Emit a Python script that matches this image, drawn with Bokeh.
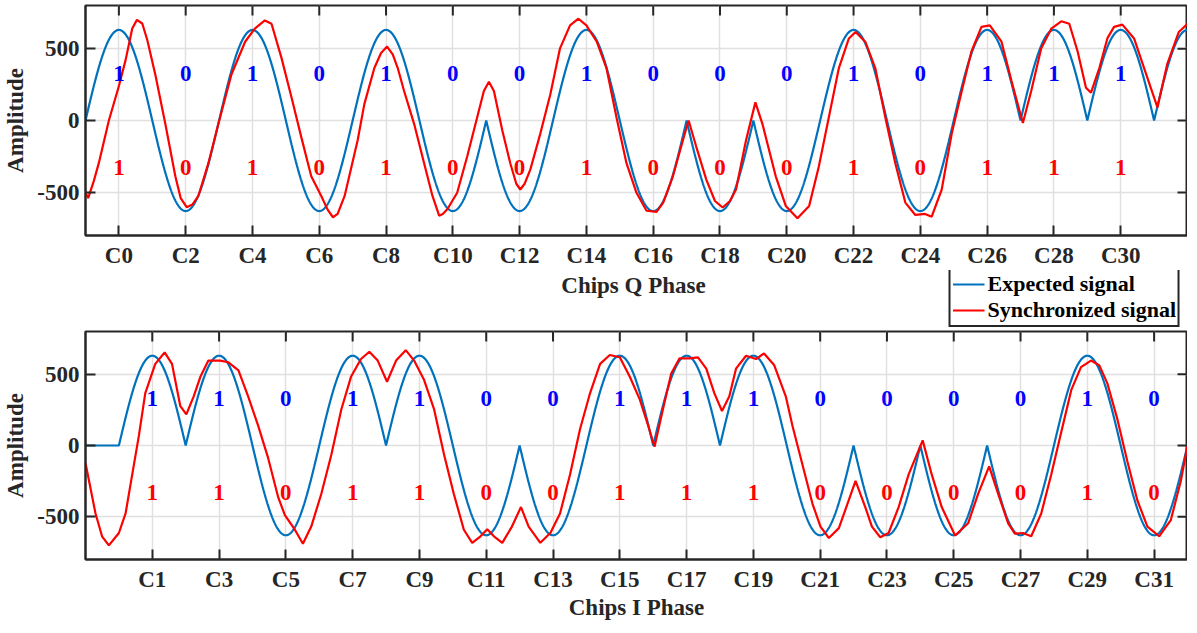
import numpy as np
from bokeh.plotting import figure
from bokeh.models import Range1d, FixedTicker, LinearAxis, Legend, LegendItem
from bokeh.layouts import column
from bokeh.embed import file_html
from bokeh.resources import INLINE
from bokeh.core.properties import value

# ---------------- data ----------------
AMPLITUDE = 630  # half-sine chip amplitude of the expected signal

# Q phase: chips on even positions
q_ticks = list(range(0, 31, 2))
q_labels = [f"C{k}" for k in q_ticks]
q_bits = [1, 0, 1, 0, 1, 0, 0, 1, 0, 0, 0, 1, 0, 1, 1, 1]
q_next_bit = 1  # next (partly visible) Q chip at position 32

# I phase: chips on odd positions
i_ticks = list(range(1, 32, 2))
i_labels = [f"C{k}" for k in i_ticks]
i_bits = [1, 1, 0, 1, 1, 0, 0, 1, 1, 1, 0, 0, 0, 0, 1, 0]

y_ticks = [-500, 0, 500]
y_labels = ["-500", "0", "500"]

# Synchronized (received) signal
q_sync_x = [-1.00, -0.92, -0.75, -0.60, -0.30, 0.00, 0.20, 0.40, 0.54, 0.70, 0.85, 1.09, 1.39, 1.69, 1.85,
            2.03, 2.20, 2.38, 2.68, 2.98, 3.37, 3.78, 4.07, 4.37, 4.57, 4.87, 5.17, 5.46, 5.76, 6.06,
            6.25, 6.41, 6.55, 6.76, 7.15, 7.35, 7.65, 7.85, 8.03, 8.20, 8.35, 8.54, 8.84, 9.14, 9.39,
            9.59, 9.70, 9.84, 10.13, 10.43, 10.73, 10.93, 11.08, 11.23, 11.48, 11.72, 11.90, 12.02,
            12.15, 12.32, 12.62, 12.92, 13.21, 13.51, 13.76, 14.00, 14.31, 14.60, 14.90, 15.20, 15.50,
            15.80, 16.10, 16.30, 16.59, 16.89, 17.06, 17.29, 17.59, 17.85, 18.08, 18.30, 18.48, 18.78,
            19.06, 19.27, 19.67, 19.97, 20.32, 20.67, 20.96, 21.26, 21.56, 21.86, 22.06, 22.35, 22.65,
            22.95, 23.25, 23.55, 23.85, 24.14, 24.34, 24.64, 24.94, 25.24, 25.53, 25.83, 26.08, 26.43,
            26.73, 27.07, 27.32, 27.62, 27.92, 28.22, 28.46, 28.71, 28.96, 29.11, 29.36, 29.60, 29.80,
            30.05, 30.40, 30.70, 31.10, 31.39, 31.74, 32.00]
q_sync_y = [-500, -540, -420, -295, 0, 240, 420, 640, 700, 675, 560, 320, -23, -388, -540,
            -603, -585, -525, -297, -23, 320, 548, 639, 696, 673, 434, 160, -114, -388, -525,
            -620, -673, -650, -525, -137, 114, 365, 470, 514, 460, 365, 205, -23, -297, -525,
            -662, -650, -616, -503, -251, 23, 205, 269, 205, -68, -297, -440, -480,
            -440, -342, -91, 182, 502, 662, 708, 662, 548, 365, 23, -297, -503,
            -628, -635, -571, -388, -137, 0, -183, -411, -560, -605, -560, -480, -137,
            126, -23, -388, -594, -680, -594, -320, 23, 365, 571, 616, 548, 365,
            23, -297, -571, -657, -650, -669, -480, -91, 205, 480, 651, 662, 548,
            274, -18, 205, 502, 639, 690, 673, 480, 228, 194, 365, 571, 651,
            667, 571, 365, 91, 390, 616, 673]

i_sync_x = [-1.00, -0.70, -0.50, -0.30, 0.00, 0.20, 0.40, 0.60, 0.79, 1.09, 1.37, 1.59, 1.84, 2.02, 2.24,
            2.44, 2.68, 3.03, 3.28, 3.58, 3.87, 4.17, 4.47, 4.77, 4.97, 5.27, 5.51, 5.76, 6.06, 6.36,
            6.66, 6.95, 7.25, 7.50, 7.75, 8.03, 8.30, 8.59, 8.84, 9.14, 9.44, 9.74, 10.03, 10.33, 10.58,
            10.83, 11.03, 11.23, 11.48, 11.77, 12.04, 12.27, 12.62, 12.92, 13.21, 13.51, 13.81, 14.11,
            14.41, 14.70, 15.00, 15.30, 15.60, 15.85, 16.04, 16.29, 16.54, 16.79, 17.09, 17.34, 17.59,
            17.83, 18.06, 18.28, 18.48, 18.78, 19.08, 19.32, 19.62, 19.97, 20.17, 20.47, 20.77, 21.01,
            21.26, 21.56, 22.06, 22.35, 22.55, 22.80, 23.05, 23.35, 23.65, 24.07, 24.34, 24.64, 25.04,
            25.43, 25.73, 26.06, 26.33, 26.63, 26.83, 27.07, 27.32, 27.62, 27.92, 28.22, 28.52, 28.81,
            29.11, 29.36, 29.60, 29.90, 30.20, 30.50, 30.80, 31.15, 31.50, 31.80, 32.00]
i_sync_y = [-123, -477, -640, -701, -614, -477, -203, 71, 368, 573, 653, 573, 276, 219, 345,
            482, 596, 596, 584, 527, 345, 139, -89, -363, -489, -591, -690, -569, -340, -66,
            253, 482, 607, 658, 596, 447, 596, 669, 596, 459, 253, -66, -340, -591, -683,
            -637, -587, -637, -683, -569, -432, -569, -683, -614, -477, -203, 116, 368,
            573, 635, 619, 482, 322, 139, -9, 253, 505, 612, 612, 619, 539,
            368, 242, 345, 539, 630, 607, 646, 565, 345, 139, -135, -409, -569,
            -649, -580, -249, -432, -569, -644, -614, -432, -203, 36, -203, -432, -632,
            -546, -340, -146, -340, -546, -619, -614, -637, -477, -203, 94, 390, 550,
            596, 562, 436, 185, -112, -386, -569, -637, -523, -249, 0]

# ---------------- style ----------------
FONT = "Liberation Serif"
FS = "23px"
AX_COLOR = "#262626"
BLUE = "#0072BD"
RED = "#FF0000"
GRID = "#e0e0e0"
DIGIT_Y = 330
X_START, X_END = -1, 32
Y_MIN, Y_MAX = -800, 800
FRAME_W = 1102
BORDER_L = 79
TICK_PX = 10


def expected_signal(centers, bits, t):
    y = np.zeros_like(t)
    for c, b in zip(centers, bits):
        m = (t >= c - 1) & (t <= c + 1)
        y[m] = (1 if b else -1) * AMPLITUDE * np.sin(np.pi * (t[m] - (c - 1)) / 2)
    return y


def style_axis(ax):
    ax.axis_line_color = AX_COLOR
    ax.axis_line_width = 2
    ax.major_tick_line_color = AX_COLOR
    ax.major_tick_line_width = 2
    ax.major_tick_in = TICK_PX
    ax.major_tick_out = 0
    ax.minor_tick_line_color = None
    ax.major_label_text_color = AX_COLOR
    ax.major_label_text_font = FONT
    ax.major_label_text_font_style = "bold"
    ax.major_label_text_font_size = FS
    ax.axis_label_text_color = AX_COLOR
    ax.axis_label_text_font = FONT
    ax.axis_label_text_font_style = "bold"
    ax.axis_label_text_font_size = FS


def make_fig(ticks, labels, bits, exp_centers, exp_bits, sx, sy, xlabel,
             frame_h, border_top, border_bottom):
    p = figure(width=BORDER_L + FRAME_W, height=border_top + frame_h + border_bottom,
               frame_width=FRAME_W, frame_height=frame_h,
               output_backend="svg", toolbar_location=None,
               x_range=Range1d(X_START, X_END), y_range=Range1d(Y_MIN, Y_MAX),
               min_border_left=BORDER_L, min_border_right=0, min_border_top=border_top,
               min_border_bottom=border_bottom, x_axis_location=None, y_axis_location=None,
               background_fill_color="white", border_fill_color="white",
               outline_line_color=AX_COLOR, outline_line_width=2)

    t = np.linspace(X_START, X_END, 3301)
    y_exp = expected_signal(exp_centers, exp_bits, t)
    p.line(t, y_exp, line_color=BLUE, line_width=2.2)
    p.line(sx, sy, line_color=RED, line_width=2.2)

    # bit digits
    txt = [str(b) for b in bits]
    p.text(x=ticks, y=[DIGIT_Y] * len(ticks), text=txt, text_color="#0000ff",
           text_font=value(FONT), text_font_style="bold", text_font_size=FS,
           text_align="center", text_baseline="middle")
    p.text(x=ticks, y=[-DIGIT_Y] * len(ticks), text=txt, text_color="#ff0000",
           text_font=value(FONT), text_font_style="bold", text_font_size=FS,
           text_align="center", text_baseline="middle")

    # mirrored inward ticks on top and right edges (box style)
    dy = TICK_PX * (Y_MAX - Y_MIN) / frame_h
    dx = TICK_PX * (X_END - X_START) / FRAME_W
    p.segment(x0=ticks, y0=[Y_MAX] * len(ticks), x1=ticks, y1=[Y_MAX - dy] * len(ticks),
              line_color=AX_COLOR, line_width=2)
    p.segment(x0=[X_END] * len(y_ticks), y0=y_ticks, x1=[X_END - dx] * len(y_ticks), y1=y_ticks,
              line_color=AX_COLOR, line_width=2)

    xt = FixedTicker(ticks=ticks)
    yt = FixedTicker(ticks=y_ticks)

    xb = LinearAxis(ticker=xt, major_label_overrides={k: l for k, l in zip(ticks, labels)},
                    axis_label=xlabel)
    style_axis(xb)
    xb.major_label_standoff = 7
    xb.axis_label_standoff = 0
    p.add_layout(xb, "below")

    yl = LinearAxis(ticker=yt, axis_label="Amplitude",
                    major_label_overrides={k: l for k, l in zip(y_ticks, y_labels)})
    style_axis(yl)
    yl.major_label_standoff = 6
    yl.axis_label_standoff = 6
    p.add_layout(yl, "left")

    p.xgrid.ticker = xt
    p.ygrid.ticker = yt
    p.grid.grid_line_color = GRID
    p.grid.grid_line_width = 1.5
    return p


# top panel (Q phase); its axis title is drawn in the strip below together with the legend
q_centers = q_ticks + [32]
p1 = make_fig(q_ticks, q_labels, q_bits, q_centers, q_bits + [q_next_bit],
              q_sync_x, q_sync_y, None, 230, 5, 34)

# strip between the panels: x-axis title of the top panel + legend
STRIP_H = 58
strip = figure(width=BORDER_L + FRAME_W, height=STRIP_H,
               output_backend="svg", toolbar_location=None,
               x_range=Range1d(X_START, X_END), y_range=Range1d(0, STRIP_H),
               min_border_left=BORDER_L, min_border_right=0, min_border_top=0, min_border_bottom=0,
               x_axis_location=None, y_axis_location=None, outline_line_color=None,
               background_fill_color="white", border_fill_color="white")
strip.grid.visible = False
strip.text(x=[(X_START + X_END) / 2], y=[STRIP_H - 2], text=["Chips Q Phase"], text_color=AX_COLOR,
           text_font=value(FONT), text_font_style="bold", text_font_size=FS,
           text_align="center", text_baseline="top")
# legend proxies (lie outside the visible strip range)
le = strip.line(x=[X_START, X_END], y=[-STRIP_H, -STRIP_H], line_color=BLUE, line_width=2.2)
ls = strip.line(x=[X_START, X_END], y=[-STRIP_H, -STRIP_H], line_color=RED, line_width=2.2)
legend = Legend(items=[LegendItem(label="Expected signal", renderers=[le]),
                       LegendItem(label="Synchronized signal", renderers=[ls])],
                location="bottom_right", orientation="vertical",
                label_text_font=FONT, label_text_font_style="bold", label_text_font_size="22px",
                label_text_color="black", border_line_color=AX_COLOR, border_line_width=2,
                border_line_alpha=1.0,
                background_fill_color="white", background_fill_alpha=1.0,
                glyph_width=32, glyph_height=20, label_height=20, padding=2, spacing=0,
                margin=1, label_standoff=3)
strip.add_layout(legend)

# bottom panel (I phase)
p2 = make_fig(i_ticks, i_labels, i_bits, i_ticks, i_bits,
              i_sync_x, i_sync_y, "Chips I Phase", 228, 3, 59)

layout = column(p1, strip, p2, spacing=0)
open("out.html", "w").write(file_html(layout, INLINE))
